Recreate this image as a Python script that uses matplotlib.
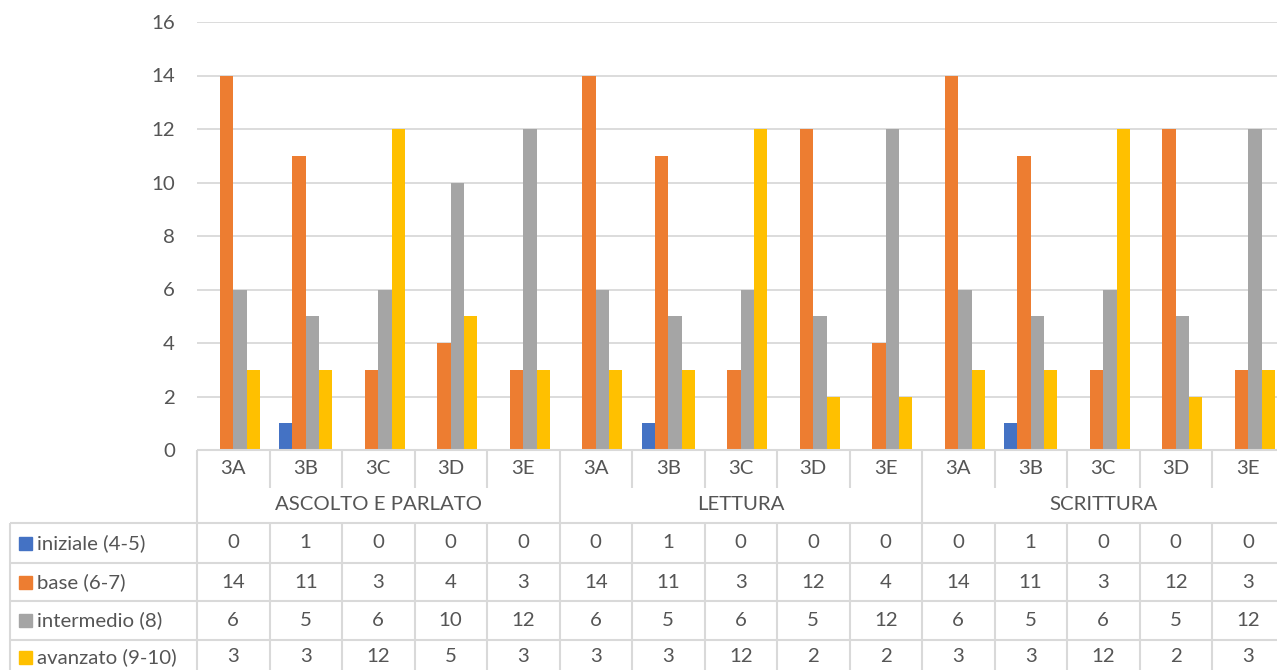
import matplotlib
matplotlib.use("Agg")
import matplotlib.pyplot as plt
from matplotlib.patches import Rectangle

plt.rcParams['font.family'] = ['Lato', 'DejaVu Sans']

groups = ["ASCOLTO E PARLATO", "LETTURA", "SCRITTURA"]
classes = ["3A", "3B", "3C", "3D", "3E"]
series_names = ["iniziale (4-5)", "base (6-7)", "intermedio (8)", "avanzato (9-10)"]
iniziale = [0, 1, 0, 0, 0, 0, 1, 0, 0, 0, 0, 1, 0, 0, 0]
base = [14, 11, 3, 4, 3, 14, 11, 3, 12, 4, 14, 11, 3, 12, 3]
intermedio = [6, 5, 6, 10, 12, 6, 5, 6, 5, 12, 6, 5, 6, 5, 12]
avanzato = [3, 3, 12, 5, 3, 3, 3, 12, 2, 2, 3, 3, 12, 2, 3]
colors = ["#4472C4", "#ED7D31", "#A5A5A5", "#FFC000"]
yticks = [0, 2, 4, 6, 8, 10, 12, 14, 16]

series = [iniziale, base, intermedio, avanzato]
W, H = 1277, 670
fig = plt.figure(figsize=(W / 100, H / 100), dpi=100)

TXT = "#555555"
GRID = "#D9D9D9"
FS = 14.7

px_left, px_right = 197, 1284.5
ax_bottom_px, ax_top_px = 450, 22
ncat = len(groups) * len(classes)
L = px_left / W
Wd = (px_right - px_left) / W

ax = fig.add_axes([L, (H - ax_bottom_px) / H, Wd, (ax_bottom_px - ax_top_px) / H])
ax.set_xlim(0, ncat)
ax.set_ylim(0, 16)
bw = 0.184
for i, (vals, c) in enumerate(zip(series, colors)):
    xs = [k + 0.5 + (i - 1.5) * bw for k in range(ncat)]
    ax.bar(xs, vals, width=bw, color=c, zorder=3)
ax.set_yticks(yticks)
ax.set_yticklabels([str(t) for t in yticks], color=TXT, fontsize=FS)
ax.tick_params(axis='y', length=0, pad=16)
ax.set_xticks([])
ax.grid(axis='y', color=GRID, linewidth=1.3, zorder=0)
for s in ["top", "right", "left", "bottom"]:
    ax.spines[s].set_visible(False)

# Data table axes (x in category units, y in pixels)
tax = fig.add_axes([L, 0, Wd, (H - ax_bottom_px) / H])
tax.set_xlim(0, ncat)
tax.set_ylim(H, ax_bottom_px)
tax.axis("off")

xl = (10 - px_left) / (px_right - px_left) * ncat
lw = 1.5
def ln(x0, x1, y0, y1):
    tax.plot([x0, x1], [y0, y1], color=GRID, lw=lw, clip_on=False, solid_capstyle='butt')

y_cat, y_grp, rows = 488, 523, [523, 563, 601, 640, 678]
ln(0, ncat, ax_bottom_px, ax_bottom_px)
for k in range(ncat + 1):
    if k % len(classes) == 0:
        ln(k, k, ax_bottom_px, H + 10)
    else:
        ln(k, k, ax_bottom_px, y_cat)
        ln(k, k, y_grp, H + 10)
ln(xl, xl, y_grp, H + 10)
for y in rows:
    ln(xl, ncat, y, y)

for k in range(ncat):
    tax.text(k + 0.5, 469, classes[k % len(classes)], ha='center', va='center',
             color=TXT, fontsize=FS, clip_on=False)
for g, name in enumerate(groups):
    tax.text(g * len(classes) + len(classes) / 2, 505, name, ha='center', va='center',
             color=TXT, fontsize=FS, clip_on=False)

unit = ncat / (px_right - px_left)
for r, (name, vals, c) in enumerate(zip(series_names, series, colors)):
    yc = (rows[r] + rows[r + 1]) / 2 if r < 3 else 657
    tax.add_patch(Rectangle((xl + 9 * unit, yc - 6.5), 13 * unit, 13, color=c, clip_on=False))
    tax.text(xl + 27 * unit, yc, name, ha='left', va='center', color=TXT,
             fontsize=FS, clip_on=False)
    for k, v in enumerate(vals):
        tax.text(k + 0.5, yc, str(v), ha='center', va='center', color=TXT,
                 fontsize=FS, clip_on=False)

fig.savefig("out.png", dpi=100)
